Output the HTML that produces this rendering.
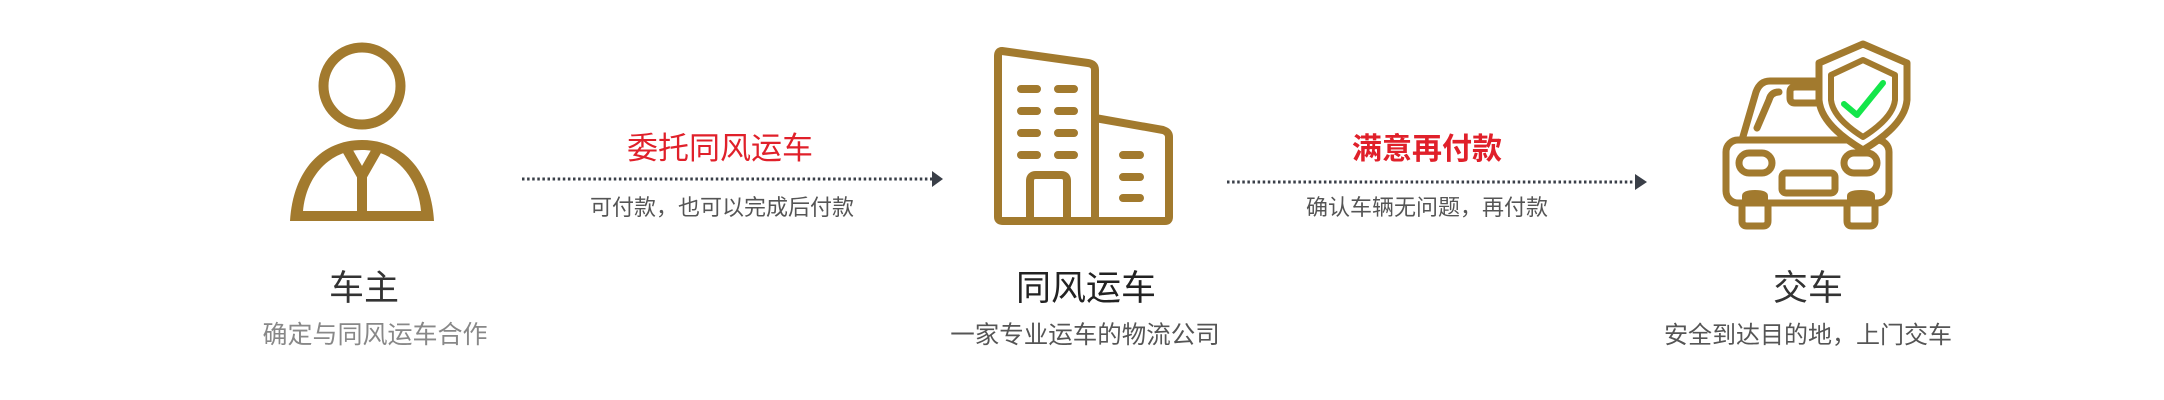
<!DOCTYPE html>
<html><head><meta charset="utf-8"><style>
html,body{margin:0;padding:0;background:#fff;width:2164px;height:400px;overflow:hidden}
svg{display:block}
text{font-family:"Liberation Sans","Noto Sans CJK SC",sans-serif}
</style></head><body>
<svg width="2164" height="400" viewBox="0 0 2164 400" xmlns="http://www.w3.org/2000/svg">
<!-- person -->
<circle cx="362" cy="86" r="38.5" fill="none" stroke="#a27a2e" stroke-width="10"/>
<path d="M290,221 C293,170 322,140 362,140 C402,140 431,170 434,221 Z" fill="#a27a2e"/>
<path d="M303,211 C306,176 330,150 362,150 C394,150 418,176 421,211 Z" fill="#fff"/>
<g fill="none" stroke="#a27a2e" stroke-width="10">
 <path d="M346,148 L362,176 L378,148"/>
 <path d="M362,174 L362,214"/>
</g>
<!-- building -->
<g fill="none" stroke="#a27a2e" stroke-width="8" stroke-linejoin="round" stroke-linecap="round">
 <path d="M1002,51 L1088,63 Q1095,64 1095,70 L1095,221 L1003,221 Q998,221 998,217 L998,56 Q998,51 1002,51 Z"/>
 <path d="M1095,118 L1163,130 Q1169,132 1169,137 L1169,217 Q1169,221 1165,221 L1095,221"/>
 <path d="M1030,221 L1030,181 Q1030,175 1036,175 L1061,175 Q1067,175 1067,181 L1067,221"/>
 <path d="M1021,89 H1037 M1058,89 H1074 M1021,111 H1037 M1058,111 H1074 M1021,133 H1037 M1058,133 H1074 M1021,155 H1037 M1058,155 H1074 M1123,155 H1140 M1123,177 H1140 M1123,198 H1140"/>
</g>
<!-- car -->
<g fill="none" stroke="#a27a2e" stroke-width="7" stroke-linejoin="round" stroke-linecap="round">
 <path d="M1742,140 L1756,92 Q1760,81 1770,81 L1815,81"/>
 <path d="M1779,92 Q1771,92 1769,100 L1757,128"/>
 <path d="M1817,87 H1795 Q1790,87 1790,92 V98 Q1790,103 1795,103 H1817"/>
 <rect x="1726" y="140" width="163" height="63" rx="12"/>
 <path d="M1742,203 V221 Q1742,226 1747,226 H1763 Q1768,226 1768,221 V203"/>
 <path d="M1847,203 V221 Q1847,226 1852,226 H1870 Q1875,226 1875,221 V203"/>
 <rect x="1739" y="153" width="33" height="20" rx="10"/>
 <rect x="1844" y="153" width="33" height="20" rx="10"/>
 <rect x="1782" y="173" width="53" height="20" rx="4"/>
</g>
<path d="M1742,203 V196 Q1742,190 1755,190 Q1768,190 1768,196 V203 Z M1847,203 V196 Q1847,190 1861,190 Q1875,190 1875,196 V203 Z" fill="#a27a2e"/>
<path d="M1863,44 L1907,63 L1907,100 Q1905,125 1863,150 Q1821,125 1819,100 L1819,63 Z" fill="#fff" stroke="#a27a2e" stroke-width="7" stroke-linejoin="round"/>
<path d="M1863,60 L1895,75 L1895,100 Q1893,118 1863,137 Q1833,118 1831,100 L1831,75 Z" fill="none" stroke="#a27a2e" stroke-width="6" stroke-linejoin="round"/>
<path d="M1844,104 L1857,115 L1883,83" fill="none" stroke="#14e64a" stroke-width="6" stroke-linecap="round" stroke-linejoin="round"/>
<!-- arrows -->
<line x1="522" y1="179" x2="933" y2="179" stroke="#3a3f48" stroke-width="3" stroke-dasharray="2.5 2.6"/>
<path d="M932,171 L943,179 L932,187 Z" fill="#3a3f48"/>
<line x1="1227" y1="182" x2="1636" y2="182" stroke="#3a3f48" stroke-width="3" stroke-dasharray="2.5 2.6"/>
<path d="M1635,174 L1647,182 L1635,190 Z" fill="#3a3f48"/>
<!-- texts -->
<g text-anchor="middle">
 <text x="720" y="159" font-size="31" fill="#e0202a">委托同风运车</text>
 <text x="722" y="215" font-size="22" fill="#555">可付款，也可以完成后付款</text>
 <text x="1427" y="159" font-size="30" font-weight="bold" fill="#e0202a">满意再付款</text>
 <text x="1427" y="215" font-size="22" fill="#555">确认车辆无问题，再付款</text>
 <text x="364" y="300" font-size="35" fill="#333">车主</text>
 <text x="375" y="343" font-size="25" fill="#888">确定与同风运车合作</text>
 <text x="1086" y="300" font-size="35" fill="#222">同风运车</text>
 <text x="1085" y="343" font-size="24.5" fill="#555">一家专业运车的物流公司</text>
 <text x="1808" y="300" font-size="35" fill="#333">交车</text>
 <text x="1808" y="343" font-size="24" fill="#555">安全到达目的地，上门交车</text>
</g>
</svg>
</body></html>
